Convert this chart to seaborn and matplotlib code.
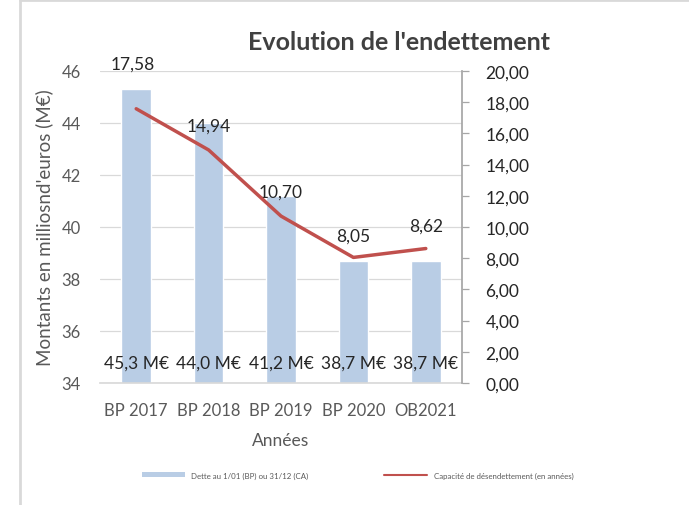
import matplotlib
matplotlib.use("Agg")
import matplotlib.pyplot as plt
import seaborn as sns
import pandas as pd
from matplotlib.patches import Patch
from matplotlib.lines import Line2D

categories = ["BP 2017", "BP 2018", "BP 2019", "BP 2020", "OB2021"]
dette = [45.3, 44.0, 41.2, 38.7, 38.7]
capacite = [17.58, 14.94, 10.70, 8.05, 8.62]
dette_labels = ["45,3 M€", "44,0 M€", "41,2 M€", "38,7 M€", "38,7 M€"]
capacite_labels = ["17,58", "14,94", "10,70", "8,05", "8,62"]
left_ticks = [34, 36, 38, 40, 42, 44, 46]
right_ticks = [0, 2, 4, 6, 8, 10, 12, 14, 16, 18, 20]

sns.set_theme(style="white")
plt.rcParams["font.family"] = ["Lato", "DejaVu Sans"]

BAR = "#B9CDE5"
LINE = "#C0504D"
TXT = "#262626"
GRAY = "#595959"

fig = plt.figure(figsize=(6.89, 5.06), dpi=100)
ax = fig.add_axes([100/689, 1-384/506, 362/689, 312/506])

df = pd.DataFrame({"cat": categories, "dette": dette, "cap": capacite})
sns.barplot(data=df, x="cat", y="dette", color=BAR, width=0.41, ax=ax,
            saturation=1, zorder=2)
ax.set_ylim(34, 46)
ax.set_xlim(-0.5, 4.5)
ax.set_yticks(left_ticks)
ax.set_yticklabels([str(t) for t in left_ticks], fontsize=12, color=GRAY)
ax.tick_params(axis="y", length=0, pad=14)
ax.tick_params(axis="x", length=0, pad=14, labelsize=12, labelcolor=GRAY)
ax.grid(axis="y", color="#D9D9D9", linewidth=0.9, zorder=0)
ax.set_axisbelow(True)
for s in ["left", "top", "right"]:
    ax.spines[s].set_visible(False)
ax.spines["bottom"].set_color("#D9D9D9")
ax.set_xlabel("Années", fontsize=12.5, color=GRAY, labelpad=10)
ax.set_ylabel("Montants en milliosnd'euros (M€)", fontsize=13.5, color=GRAY, labelpad=6)

for i, lab in enumerate(dette_labels):
    ax.text(i, 34.8, lab, ha="center", va="center", fontsize=12.5, color=TXT, zorder=5)

ax2 = ax.twinx()
sns.lineplot(data=df, x="cat", y="cap", color=LINE, linewidth=2.5, ax=ax2,
             sort=False, zorder=4)
ax2.set_ylim(0, 20)
ax2.set_yticks(right_ticks)
ax2.set_yticklabels([f"{t:.2f}".replace(".", ",") for t in right_ticks],
                    fontsize=12.5, color=TXT)
ax2.tick_params(axis="y", length=5, width=0.9, color="#A6A6A6", pad=12, right=True)
ax2.set_ylabel("")
ax2.set_xlabel("")
for s in ["left", "top", "bottom"]:
    ax2.spines[s].set_visible(False)
ax2.spines["right"].set_color("#A6A6A6")
ax2.grid(False)

offsets = [45, 24, 24, 22, 23]
for i, (v, lab) in enumerate(zip(capacite, capacite_labels)):
    ax2.annotate(lab, (i, v), xytext=(-3 if i == 0 else 0, offsets[i]),
                 textcoords="offset pixels", ha="center", va="center",
                 fontsize=12.5, color=TXT)

fig.text((245+553)/2/689, 1-43/506, "Evolution de l'endettement", ha="center",
         va="center", fontsize=18, fontweight="bold", color="#404040")

handles = [Patch(facecolor=BAR, edgecolor="none"),
           Line2D([0], [0], color=LINE, linewidth=1.5)]
fig.legend(handles, ["Dette au 1/01 (BP) ou 31/12 (CA)",
                     "Capacité de désendettement (en années)"],
           loc="center", bbox_to_anchor=((140+575)/2/689, 1-476/506), ncol=2,
           frameon=False, fontsize=5.7, columnspacing=9.5, handlelength=5.5,
           handleheight=0.6, labelcolor=GRAY)

# outer frame (left and top edges)
fig.add_artist(Line2D([20/689, 20/689], [0, 1-1/506], transform=fig.transFigure,
                      color="#D9D9D9", linewidth=2))
fig.add_artist(Line2D([20/689, 1], [1-1/506, 1-1/506], transform=fig.transFigure,
                      color="#D9D9D9", linewidth=2))

fig.savefig("out.png", dpi=100, facecolor="white")
